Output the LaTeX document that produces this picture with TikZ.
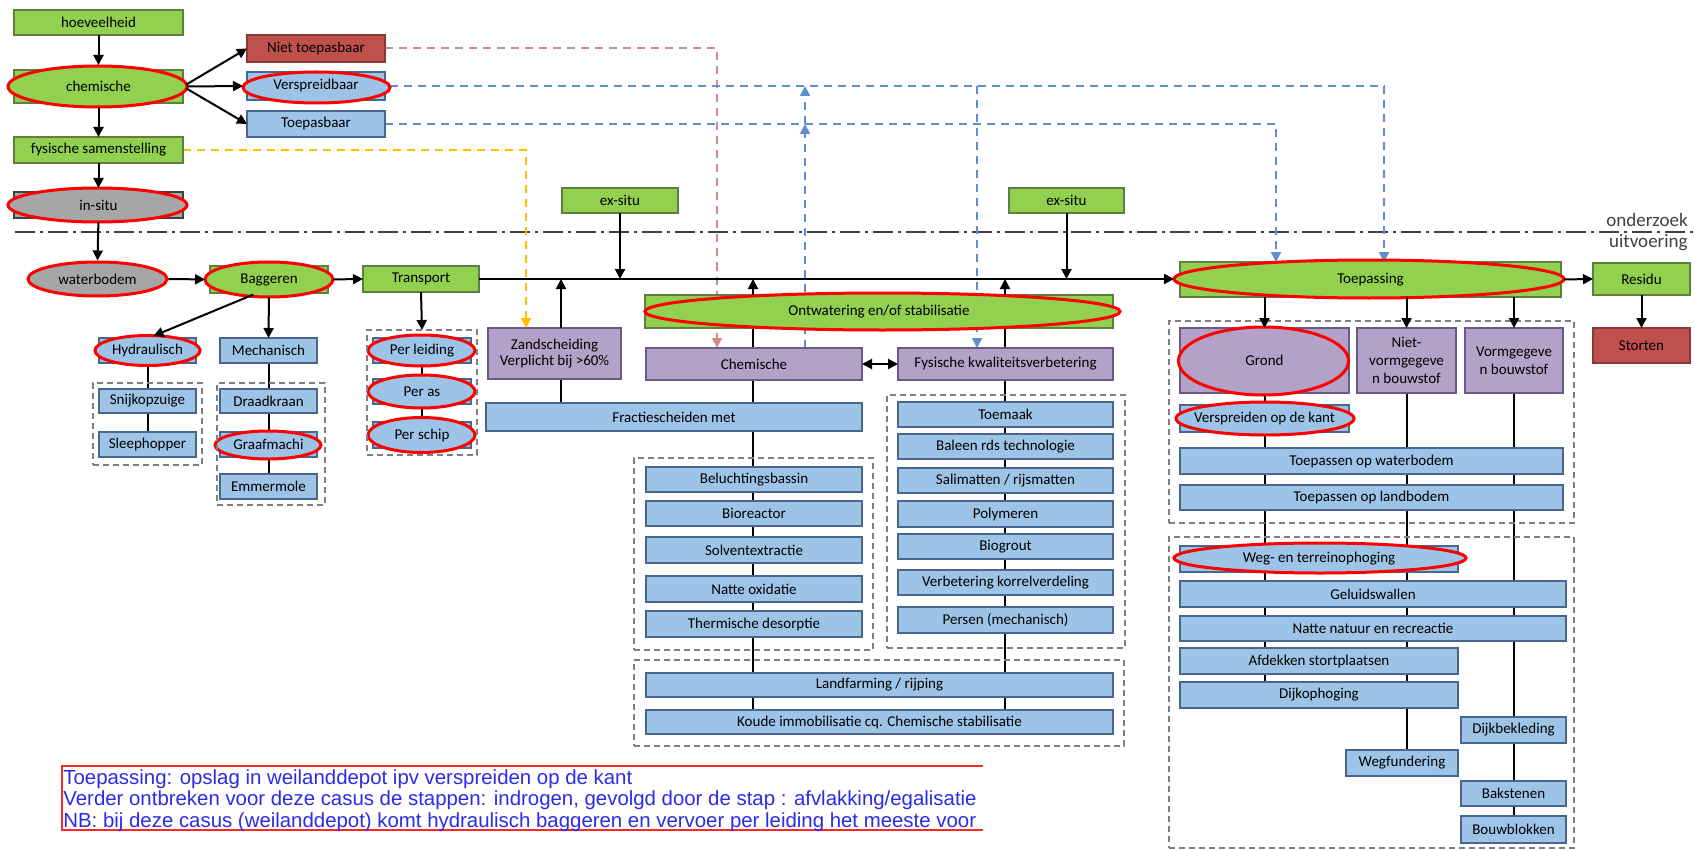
\documentclass[tikz,border=0pt]{standalone}
\usepackage{fontspec}
\setmainfont{Carlito}
\newfontfamily\notefont{Liberation Sans}
\usetikzlibrary{arrows.meta,shapes.geometric,calc}
\definecolor{gF}{HTML}{92D050}\definecolor{gB}{HTML}{5E7F3E}
\definecolor{bF}{HTML}{9DC3E6}\definecolor{bB}{HTML}{47678F}
\definecolor{pF}{HTML}{B3A2C7}\definecolor{pB}{HTML}{6B5B84}
\definecolor{rF}{HTML}{C0504D}\definecolor{rB}{HTML}{8C3836}
\definecolor{kF}{HTML}{A6A6A6}\definecolor{kB}{HTML}{404040}
\definecolor{ringC}{HTML}{FF0000}
\definecolor{dRed}{HTML}{D48A88}\definecolor{dBlue}{HTML}{5F8FD0}
\definecolor{dYel}{HTML}{FFC000}\definecolor{grpC}{HTML}{7F7F7F}
\definecolor{noteC}{HTML}{2B2BE8}
\pgfdeclarelayer{lines}\pgfdeclarelayer{bg}
\pgfsetlayers{lines,bg,main}
% box by its corners, in pixel units
\newcommand{\bx}[7]{\node[#1,minimum width={(#5-#3)*0.5pt},minimum height={(#6-#4)*0.5pt}] (#2) at ({(#3+#5)/2},{(#4+#6)/2}) {#7};}
% box with a red ring behind its text
\newcommand{\hl}[8]{%
  \begin{pgfonlayer}{bg}
    \draw[#1,line width=0.75pt] (#3,#4) rectangle (#5,#6);
    \draw[#1,ring] #8;
  \end{pgfonlayer}
  \bx{box,draw=none,fill=none}{#2}{#3}{#4}{#5}{#6}{#7}}
\begin{document}
\begin{tikzpicture}[x=0.5pt,y=-0.5pt,
  box/.style={draw,line width=0.75pt,inner sep=1pt,outer sep=0pt,align=center,
    font=\fontsize{7.5}{8.2}\selectfont},
  tall/.style={font=\fontsize{7.5}{9}\selectfont},
  gfill/.style={fill=gF,draw=gB},
  bfill/.style={fill=bF,draw=bB},
  pfill/.style={fill=pF,draw=pB},
  rfill/.style={fill=rF,draw=rB},
  kfill/.style={fill=kF,draw=kB},
  ring/.style={draw=ringC,line width=1.5pt},
  grp/.style={draw=grpC,dash pattern=on 3pt off 2pt,line width=0.8pt,inner sep=0pt,outer sep=0pt},
  arr/.style={-{Triangle[length=5pt,width=5pt]},line width=1pt},
  con/.style={line width=1pt},
  dsh/.style={line width=1pt,dash pattern=on 4pt off 3pt,-{Triangle[length=5pt,width=5pt]}},
]
\useasboundingbox (0,0) rectangle (1695,850);

% ---- investigation column ----
\bx{box,gfill}{hoev}{14}{10}{183}{35}{hoeveelheid}
\hl{gfill}{chem}{14}{70}{183}{103}{chemische}{(97.5,86.5) ellipse [x radius=89.5,y radius=20.5]}
\bx{box,rfill}{niet}{247}{35}{385}{62}{Niet toepasbaar}
\hl{bfill}{versp}{247}{72}{385}{100}{Verspreidbaar}{(316.5,87.5) ellipse [x radius=73.5,y radius=15.5]}
\bx{box,bfill}{toep}{247}{111}{385}{137}{Toepasbaar}
\bx{box,gfill}{fys}{14}{137}{183}{163}{fysische samenstelling}
\hl{kfill}{insitu}{14}{192}{183}{218}{in-situ}{(97.5,205) ellipse [x radius=89.5,y radius=17]}

% ---- dredging and transport ----
\node[ellipse,kfill,draw=ringC,line width=1.5pt,inner sep=0pt,minimum width=69.5pt,minimum height=17pt,
  font=\fontsize{7.5}{8.2}\selectfont] (wb) at (97.5,279) {waterbodem};
\hl{gfill}{bag}{210}{266}{328}{293}{Baggeren}{(269,279.5) ellipse [x radius=64,y radius=17.5]}
\bx{box,gfill}{transp}{363}{266}{479}{292}{Transport}
\hl{bfill}{hydr}{99}{338}{196}{363}{Hydraulisch}{(147.5,350.5) ellipse [x radius=52.5,y radius=15]}
\bx{box,bfill}{mech}{220}{338}{317}{363}{Mechanisch}
\bx{grp}{g1}{93}{383}{202}{465}{}
\bx{box,bfill}{snij}{99}{389}{196}{413}{Snijkopzuige}
\bx{box,bfill}{sleep}{99}{432}{196}{457}{Sleephopper}
\bx{grp}{g2}{217}{383}{325}{505}{}
\bx{box,bfill}{draad}{220}{389}{317}{413}{Draadkraan}
\hl{bfill}{graaf}{220}{432}{317}{457}{Graafmachi}{(268,445) ellipse [x radius=53,y radius=14]}
\bx{box,bfill}{emmer}{220}{474}{317}{499}{Emmermole}
\bx{grp}{g3}{367}{330}{477}{455}{}
\hl{bfill}{leid}{373}{338}{471}{363}{Per leiding}{(421.5,350.5) ellipse [x radius=53.5,y radius=15.5]}
\hl{bfill}{as}{373}{379}{471}{404}{Per as}{(421.5,391.5) ellipse [x radius=53.5,y radius=16.5]}
\hl{bfill}{schip}{373}{422}{471}{448}{Per schip}{(421.5,435) ellipse [x radius=53.5,y radius=17.5]}

% ---- treatment ----
\bx{box,pfill}{zand}{488}{328}{621}{379}{Zandscheiding\\Verplicht bij >60\%}
\bx{box,gfill}{exsitu1}{562}{188}{678}{213}{ex-situ}
\hl{gfill}{ontw}{645}{295}{1113}{328}{Ontwatering en/of stabilisatie}{(882.5,311.5) ellipse [x radius=237.5,y radius=18.5]}
\bx{box,pfill}{chemB}{646}{348}{862}{380}{Chemische}
\bx{box,pfill}{fysK}{898}{348}{1113}{380}{Fysische kwaliteitsverbetering}
\bx{box,bfill}{frac}{486}{403}{862}{431}{Fractiescheiden met}
\bx{grp}{g4}{634}{458}{873}{650}{}
\bx{box,bfill}{bel}{646}{467}{862}{492}{Beluchtingsbassin}
\bx{box,bfill}{bio}{646}{501}{862}{526}{Bioreactor}
\bx{box,bfill}{solv}{646}{537}{862}{563}{Solventextractie}
\bx{box,bfill}{natox}{646}{576}{862}{602}{Natte oxidatie}
\bx{box,bfill}{therm}{646}{611}{862}{637}{Thermische desorptie}
\bx{grp}{g5}{634}{660}{1124}{746}{}
\bx{box,bfill}{land}{646}{673}{1113}{697}{Landfarming / rijping}
\bx{box,bfill}{koude}{646}{710}{1113}{734}{Koude immobilisatie cq. Chemische stabilisatie}
\bx{grp}{g6}{887}{395}{1125}{648}{}
\bx{box,bfill}{toemaak}{898}{402}{1113}{427}{Toemaak}
\bx{box,bfill}{baleen}{898}{434}{1113}{459}{Baleen rds technologie}
\bx{box,bfill}{sali}{898}{468}{1113}{493}{Salimatten / rijsmatten}
\bx{box,bfill}{poly}{898}{501}{1113}{527}{Polymeren}
\bx{box,bfill}{biog}{898}{534}{1113}{559}{Biogrout}
\bx{box,bfill}{verb}{898}{570}{1113}{595}{Verbetering korrelverdeling}
\bx{box,bfill}{pers}{898}{607}{1113}{633}{Persen (mechanisch)}

% ---- application ----
\bx{box,gfill}{exsitu2}{1009}{188}{1124}{213}{ex-situ}
\hl{gfill}{toepass}{1180}{262}{1561}{297}{Toepassing}{(1369,279) ellipse [x radius=195,y radius=19]}
\bx{box,gfill}{residu}{1593}{263}{1690}{295}{Residu}
\bx{box,rfill}{storten}{1593}{328}{1690}{363}{Storten}
\bx{grp}{g7}{1169}{321}{1574}{523}{}
\hl{pfill}{grond}{1180}{328}{1349}{393}{Grond}{(1263.5,361) ellipse [x radius=85,y radius=34]}
\bx{box,pfill,tall}{nietv}{1357}{328}{1456}{393}{Niet-\\vormgegeve\\n bouwstof}
\bx{box,pfill,tall}{vorm}{1465}{328}{1563}{393}{Vormgegeve\\n bouwstof}
\hl{bfill}{versk}{1180}{405}{1349}{432}{Verspreiden op de kant}{(1265,418.5) ellipse [x radius=89,y radius=16.5]}
\bx{box,bfill}{twater}{1180}{448}{1563}{474}{Toepassen op waterbodem}
\bx{box,bfill}{tland}{1180}{485}{1563}{510}{Toepassen op landbodem}
\bx{grp}{g8}{1169}{537}{1574}{848}{}
\hl{bfill}{weg}{1180}{546}{1458}{572}{Weg- en terreinophoging}{(1320,558) ellipse [x radius=146,y radius=15]}
\bx{box,bfill}{gel}{1180}{581}{1566}{607}{Geluidswallen}
\bx{box,bfill}{natte}{1180}{616}{1566}{641}{Natte natuur en recreactie}
\bx{box,bfill}{afdek}{1180}{648}{1458}{674}{Afdekken stortplaatsen}
\bx{box,bfill}{dijko}{1180}{682}{1458}{708}{Dijkophoging}
\bx{box,bfill}{dijkb}{1461}{717}{1566}{743}{Dijkbekleding}
\bx{box,bfill}{wegf}{1346}{750}{1458}{776}{Wegfundering}
\bx{box,bfill}{bakst}{1461}{781}{1566}{806}{Bakstenen}
\bx{box,bfill}{bouwb}{1461}{816}{1566}{843}{Bouwblokken}

% ---- phase labels ----
\node[anchor=east,inner sep=0pt,text=kB,font=\fontsize{9.5}{10}\selectfont] (ond) at (1688,220) {onderzoek};
\node[anchor=east,inner sep=0pt,text=kB,font=\fontsize{9.5}{10}\selectfont] (uitv) at (1688,243) {uitvoering};

% ---- x positions of vertical runs ----
\coordinate (xR) at (717,0);  \coordinate (xY) at (526,0);
\coordinate (xB0) at (805,0); \coordinate (xB1) at (977,0);
\coordinate (xB2) at (1384,0);\coordinate (xB3) at (1276,0);
\coordinate (xZ) at (561,0);  \coordinate (xO1) at (753,0);
\coordinate (xO2) at (1005,0);\coordinate (dl0) at (15,232);
\coordinate (dl1) at (1695,232);

% ---- lines behind the boxes ----
\begin{pgfonlayer}{lines}
  \draw[line width=1.2pt,draw=kB,dash pattern=on 10pt off 2.5pt on 1.5pt off 2.5pt] (dl0) -- (dl1);
  \draw[dsh,draw=dRed] (niet.east) -| (xR |- chemB.north);
  \draw[dsh,draw=dYel] (fys.east) -| (xY |- zand.north);
  \draw[dsh,draw=dBlue,shorten <=2.5pt] (versp.east) -| (xB2 |- toepass.north);
  \draw[dsh,draw=dBlue] (xB1 |- versp.east) -- (xB1 |- fysK.north);
  \draw[dsh,draw=dBlue] (toep.east) -| (xB3 |- toepass.north);
  \draw[dsh,draw=dBlue] (xB0 |- chemB.north) -- (xB0 |- versp.east);
  \draw[dsh,draw=dBlue] (xB0 |- chemB.north) -- (xB0 |- toep.east);
  \draw[con] (hydr.south) -- (sleep.north);
  \draw[con] (mech.south) -- (emmer.north);
  \draw[con] (leid.south) -- (schip.north);
  \draw[con] (xZ |- zand.south) -- (xZ |- frac.north);
  \draw[con] (xO1 |- ontw.south) -- (xO1 |- koude.north);
  \draw[con] (xO2 |- ontw.south) -- (xO2 |- koude.north);
  \draw[con] (grond.south) -- (grond.south |- dijko.north);
  \draw[con] (nietv.south) -- (nietv.south |- wegf.north);
  \draw[con] (vorm.south) -- (vorm.south |- bouwb.north);
\end{pgfonlayer}

% ---- arrows ----
\draw[arr,shorten >=2.5pt] (hoev.south) -- (chem.north);
\draw[arr,shorten <=2pt] (chem.south) -- (fys.north);
\draw[arr,shorten >=2pt] (fys.south) -- (insitu.north);
\draw[arr,shorten <=2pt] (insitu.south) -- (wb.north);
\draw[arr,shorten >=2.5pt] (wb.east) -- (bag.west);
\draw[arr,shorten <=2.5pt] (bag.east) -- (transp.west);
\draw[arr,shorten <=2pt] (chem.east) -- (niet.west);
\draw[arr,shorten <=2pt,shorten >=2pt] (chem.east) -- (versp.west);
\draw[arr,shorten <=2pt] (chem.east) -- (toep.west);
\draw[arr,shorten <=2pt] ($(bag.south)+(-12,0)$) -- ($(hydr.north)+(6,-2)$);
\draw[arr,shorten <=2pt] (bag.south) -- (mech.north);
\draw[arr] (transp.south) -- (g3.north);
\draw[arr,shorten >=3pt] (transp.east) -- (transp.east -| toepass.west);
\draw[arr] (exsitu1.south) -- (exsitu1.south |- transp.east);
\draw[arr] (exsitu2.south) -- (exsitu2.south |- transp.east);
\draw[arr] (xZ |- zand.north) -- (xZ |- transp.east);
\draw[arr] (xO1 |- ontw.north) -- (xO1 |- transp.east);
\draw[arr] (xO2 |- ontw.north) -- (xO2 |- transp.east);
\draw[{Triangle[length=5pt,width=5pt]}-{Triangle[length=5pt,width=5pt]},line width=1pt]
  (chemB.east) -- (fysK.west);
\draw[arr] (grond.north |- toepass.south) -- (grond.north);
\draw[arr] (nietv.north |- toepass.south) -- (nietv.north);
\draw[arr] (vorm.north |- toepass.south) -- (vorm.north);
\draw[arr,shorten <=1.5pt] (toepass.east) -- (residu.west);
\draw[arr] (residu.south) -- (storten.north);

% ---- remark ----
\draw[draw=ringC!85!white,line width=1pt] (983,766) -- (62,766) -- (62,830) -- (983,830);
\node[anchor=north west,align=left,inner sep=0pt,text=noteC,
  font=\notefont\fontsize{10.2}{10.8}\selectfont] (note) at (63,769)
  {Toepassing: opslag in weilanddepot ipv verspreiden op de kant\\
   Verder ontbreken voor deze casus de stappen: indrogen, gevolgd door de stap : afvlakking/egalisatie\\
   NB: bij deze casus (weilanddepot) komt hydraulisch baggeren en vervoer per leiding het meeste voor};
\end{tikzpicture}
\end{document}
